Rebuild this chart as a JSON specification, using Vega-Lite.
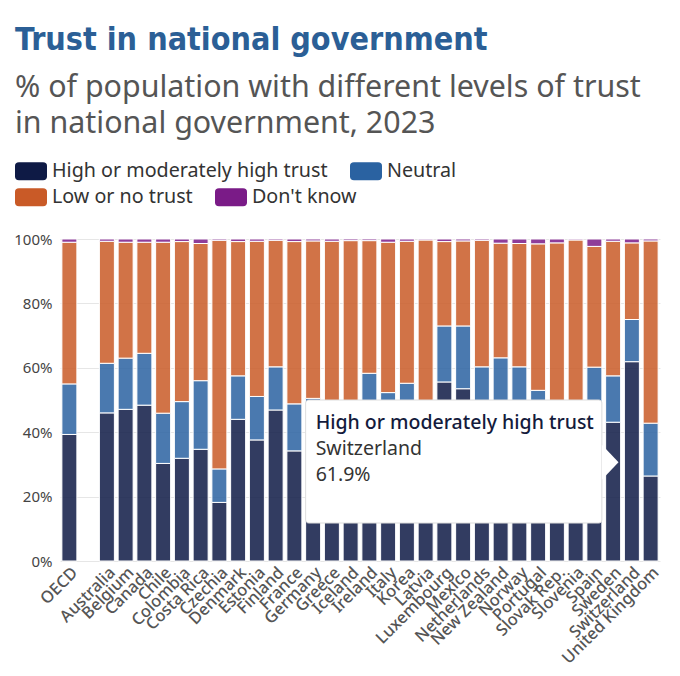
{
  "$schema": "https://vega.github.io/schema/vega-lite/v6.json",
  "width": 600,
  "height": 322,
  "autosize": "none",
  "padding": {"left": 60, "top": 239, "right": 20, "bottom": 115},
  "background": "white",
  "title": {
    "text": "Trust in national government",
    "subtitle": ["% of population with different levels of trust", "in national government, 2023"],
    "anchor": "start",
    "frame": "group",
    "dx": -45,
    "offset": 19,
    "font": "DejaVu Sans Condensed, sans-serif",
    "fontSize": 32,
    "fontWeight": "bold",
    "color": "#2b5f96",
    "subtitleFont": "Noto Sans",
    "subtitleFontSize": 30.4,
    "subtitleColor": "#555555",
    "subtitleLineHeight": 36,
    "subtitlePadding": 16
  },
  "datasets": {
    "trust": [
      {"country": "OECD", "level": "High or moderately high trust", "value": 39.3},
      {"country": "OECD", "level": "Neutral", "value": 15.7},
      {"country": "OECD", "level": "Low or no trust", "value": 44.0},
      {"country": "OECD", "level": "Don't know", "value": 1.0},
      {"country": "Australia", "level": "High or moderately high trust", "value": 46.0},
      {"country": "Australia", "level": "Neutral", "value": 15.4},
      {"country": "Australia", "level": "Low or no trust", "value": 37.9},
      {"country": "Australia", "level": "Don't know", "value": 0.7},
      {"country": "Belgium", "level": "High or moderately high trust", "value": 47.1},
      {"country": "Belgium", "level": "Neutral", "value": 15.9},
      {"country": "Belgium", "level": "Low or no trust", "value": 36.0},
      {"country": "Belgium", "level": "Don't know", "value": 1.0},
      {"country": "Canada", "level": "High or moderately high trust", "value": 48.4},
      {"country": "Canada", "level": "Neutral", "value": 16.1},
      {"country": "Canada", "level": "Low or no trust", "value": 34.5},
      {"country": "Canada", "level": "Don't know", "value": 1.0},
      {"country": "Chile", "level": "High or moderately high trust", "value": 30.3},
      {"country": "Chile", "level": "Neutral", "value": 15.6},
      {"country": "Chile", "level": "Low or no trust", "value": 53.1},
      {"country": "Chile", "level": "Don't know", "value": 1.0},
      {"country": "Colombia", "level": "High or moderately high trust", "value": 31.9},
      {"country": "Colombia", "level": "Neutral", "value": 17.6},
      {"country": "Colombia", "level": "Low or no trust", "value": 49.7},
      {"country": "Colombia", "level": "Don't know", "value": 0.8},
      {"country": "Costa Rica", "level": "High or moderately high trust", "value": 34.7},
      {"country": "Costa Rica", "level": "Neutral", "value": 21.3},
      {"country": "Costa Rica", "level": "Low or no trust", "value": 42.6},
      {"country": "Costa Rica", "level": "Don't know", "value": 1.4},
      {"country": "Czechia", "level": "High or moderately high trust", "value": 18.2},
      {"country": "Czechia", "level": "Neutral", "value": 10.4},
      {"country": "Czechia", "level": "Low or no trust", "value": 71.0},
      {"country": "Czechia", "level": "Don't know", "value": 0.4},
      {"country": "Denmark", "level": "High or moderately high trust", "value": 44.0},
      {"country": "Denmark", "level": "Neutral", "value": 13.5},
      {"country": "Denmark", "level": "Low or no trust", "value": 41.7},
      {"country": "Denmark", "level": "Don't know", "value": 0.8},
      {"country": "Estonia", "level": "High or moderately high trust", "value": 37.6},
      {"country": "Estonia", "level": "Neutral", "value": 13.5},
      {"country": "Estonia", "level": "Low or no trust", "value": 48.2},
      {"country": "Estonia", "level": "Don't know", "value": 0.7},
      {"country": "Finland", "level": "High or moderately high trust", "value": 46.9},
      {"country": "Finland", "level": "Neutral", "value": 13.4},
      {"country": "Finland", "level": "Low or no trust", "value": 39.3},
      {"country": "Finland", "level": "Don't know", "value": 0.4},
      {"country": "France", "level": "High or moderately high trust", "value": 34.2},
      {"country": "France", "level": "Neutral", "value": 14.6},
      {"country": "France", "level": "Low or no trust", "value": 50.4},
      {"country": "France", "level": "Don't know", "value": 0.8},
      {"country": "Germany", "level": "High or moderately high trust", "value": 37.0},
      {"country": "Germany", "level": "Neutral", "value": 13.5},
      {"country": "Germany", "level": "Low or no trust", "value": 48.9},
      {"country": "Germany", "level": "Don't know", "value": 0.6},
      {"country": "Greece", "level": "High or moderately high trust", "value": 29.0},
      {"country": "Greece", "level": "Neutral", "value": 17.0},
      {"country": "Greece", "level": "Low or no trust", "value": 53.3},
      {"country": "Greece", "level": "Don't know", "value": 0.7},
      {"country": "Iceland", "level": "High or moderately high trust", "value": 35.0},
      {"country": "Iceland", "level": "Neutral", "value": 14.0},
      {"country": "Iceland", "level": "Low or no trust", "value": 50.5},
      {"country": "Iceland", "level": "Don't know", "value": 0.5},
      {"country": "Ireland", "level": "High or moderately high trust", "value": 44.0},
      {"country": "Ireland", "level": "Neutral", "value": 14.3},
      {"country": "Ireland", "level": "Low or no trust", "value": 41.2},
      {"country": "Ireland", "level": "Don't know", "value": 0.5},
      {"country": "Italy", "level": "High or moderately high trust", "value": 37.0},
      {"country": "Italy", "level": "Neutral", "value": 15.3},
      {"country": "Italy", "level": "Low or no trust", "value": 46.7},
      {"country": "Italy", "level": "Don't know", "value": 1.0},
      {"country": "Korea", "level": "High or moderately high trust", "value": 39.0},
      {"country": "Korea", "level": "Neutral", "value": 16.2},
      {"country": "Korea", "level": "Low or no trust", "value": 44.1},
      {"country": "Korea", "level": "Don't know", "value": 0.7},
      {"country": "Latvia", "level": "High or moderately high trust", "value": 23.0},
      {"country": "Latvia", "level": "Neutral", "value": 13.0},
      {"country": "Latvia", "level": "Low or no trust", "value": 63.7},
      {"country": "Latvia", "level": "Don't know", "value": 0.3},
      {"country": "Luxembourg", "level": "High or moderately high trust", "value": 55.6},
      {"country": "Luxembourg", "level": "Neutral", "value": 17.4},
      {"country": "Luxembourg", "level": "Low or no trust", "value": 26.2},
      {"country": "Luxembourg", "level": "Don't know", "value": 0.8},
      {"country": "Mexico", "level": "High or moderately high trust", "value": 53.5},
      {"country": "Mexico", "level": "Neutral", "value": 19.5},
      {"country": "Mexico", "level": "Low or no trust", "value": 26.4},
      {"country": "Mexico", "level": "Don't know", "value": 0.6},
      {"country": "Netherlands", "level": "High or moderately high trust", "value": 46.0},
      {"country": "Netherlands", "level": "Neutral", "value": 14.3},
      {"country": "Netherlands", "level": "Low or no trust", "value": 39.3},
      {"country": "Netherlands", "level": "Don't know", "value": 0.4},
      {"country": "New Zealand", "level": "High or moderately high trust", "value": 47.0},
      {"country": "New Zealand", "level": "Neutral", "value": 16.1},
      {"country": "New Zealand", "level": "Low or no trust", "value": 35.6},
      {"country": "New Zealand", "level": "Don't know", "value": 1.3},
      {"country": "Norway", "level": "High or moderately high trust", "value": 48.0},
      {"country": "Norway", "level": "Neutral", "value": 12.3},
      {"country": "Norway", "level": "Low or no trust", "value": 38.3},
      {"country": "Norway", "level": "Don't know", "value": 1.4},
      {"country": "Portugal", "level": "High or moderately high trust", "value": 40.0},
      {"country": "Portugal", "level": "Neutral", "value": 13.0},
      {"country": "Portugal", "level": "Low or no trust", "value": 45.5},
      {"country": "Portugal", "level": "Don't know", "value": 1.5},
      {"country": "Slovak Rep.", "level": "High or moderately high trust", "value": 24.0},
      {"country": "Slovak Rep.", "level": "Neutral", "value": 12.0},
      {"country": "Slovak Rep.", "level": "Low or no trust", "value": 62.8},
      {"country": "Slovak Rep.", "level": "Don't know", "value": 1.2},
      {"country": "Slovenia", "level": "High or moderately high trust", "value": 23.0},
      {"country": "Slovenia", "level": "Neutral", "value": 11.0},
      {"country": "Slovenia", "level": "Low or no trust", "value": 65.7},
      {"country": "Slovenia", "level": "Don't know", "value": 0.3},
      {"country": "Spain", "level": "High or moderately high trust", "value": 38.0},
      {"country": "Spain", "level": "Neutral", "value": 22.2},
      {"country": "Spain", "level": "Low or no trust", "value": 37.5},
      {"country": "Spain", "level": "Don't know", "value": 2.3},
      {"country": "Sweden", "level": "High or moderately high trust", "value": 43.1},
      {"country": "Sweden", "level": "Neutral", "value": 14.4},
      {"country": "Sweden", "level": "Low or no trust", "value": 41.8},
      {"country": "Sweden", "level": "Don't know", "value": 0.7},
      {"country": "Switzerland", "level": "High or moderately high trust", "value": 61.9},
      {"country": "Switzerland", "level": "Neutral", "value": 13.1},
      {"country": "Switzerland", "level": "Low or no trust", "value": 23.8},
      {"country": "Switzerland", "level": "Don't know", "value": 1.2},
      {"country": "United Kingdom", "level": "High or moderately high trust", "value": 26.4},
      {"country": "United Kingdom", "level": "Neutral", "value": 16.4},
      {"country": "United Kingdom", "level": "Low or no trust", "value": 56.6},
      {"country": "United Kingdom", "level": "Don't know", "value": 0.6}
    ],
    "hover": [
      {"level": "High or moderately high trust", "country": "Switzerland", "value": "61.9%"}
    ]
  },
  "encoding": {
    "x": {
      "type": "nominal",
      "scale": {
        "domain": ["OECD", " ", "Australia", "Belgium", "Canada", "Chile", "Colombia", "Costa Rica", "Czechia", "Denmark", "Estonia", "Finland", "France", "Germany", "Greece", "Iceland", "Ireland", "Italy", "Korea", "Latvia", "Luxembourg", "Mexico", "Netherlands", "New Zealand", "Norway", "Portugal", "Slovak Rep.", "Slovenia", "Spain", "Sweden", "Switzerland", "United Kingdom"],
        "paddingInner": 0.2,
        "paddingOuter": 0.1
      },
      "axis": {
        "title": null,
        "labelAngle": -45,
        "labelFont": "Noto Sans",
        "labelFontSize": 16.5,
        "labelFontWeight": 500,
        "labelColor": "#555555",
        "ticks": false,
        "domain": false,
        "labelPadding": 3
      }
    }
  },
  "layer": [
    {
      "data": {"name": "trust"},
      "mark": {"type": "bar", "fillOpacity": 0.85, "stroke": "white", "strokeWidth": 1},
      "encoding": {
        "x": {"field": "country", "type": "nominal"},
        "y": {
          "field": "value",
          "type": "quantitative",
          "stack": "zero",
          "scale": {"domain": [0, 100]},
          "axis": {
            "title": null,
            "values": [0, 20, 40, 60, 80, 100],
            "labelExpr": "datum.value + '%'",
            "labelFont": "Noto Sans",
            "labelFontSize": 15,
            "labelColor": "#444444",
            "ticks": false,
            "domain": false,
            "labelPadding": 8,
            "gridColor": "#e6e6e6"
          }
        },
        "color": {
          "field": "level",
          "type": "nominal",
          "scale": {
            "domain": ["High or moderately high trust", "Neutral", "Low or no trust", "Don't know"],
            "range": ["#0e1a45", "#2a62a1", "#c95a27", "#7a1b87"]
          },
          "legend": {
            "values": ["High or moderately high trust", "Neutral"],
            "orient": "none",
            "legendX": -41,
            "legendY": -80,
            "title": null,
            "direction": "horizontal",
            "padding": 0,
            "columnPadding": 22,
            "symbolType": "M-1.0,-0.75H1.0Q1.333,-0.75 1.333,-0.45V0.45Q1.333,0.75 1.0,0.75H-1.0Q-1.333,0.75 -1.333,0.45V-0.45Q-1.333,-0.75 -1.0,-0.75Z",
            "symbolSize": 576,
            "symbolOpacity": 1,
            "symbolStrokeWidth": 0,
            "labelOffset": 9,
            "labelFont": "Noto Sans",
            "labelFontSize": 19.7,
            "labelColor": "#333333",
            "labelLimit": 400
          }
        },
        "order": {"field": "country"}
      }
    },
    {
      "data": {"name": "trust"},
      "transform": [{"filter": {"field": "level", "oneOf": ["Low or no trust", "Don't know"]}}],
      "mark": {"type": "bar", "opacity": 0},
      "encoding": {
        "x": {"field": "country", "type": "nominal"},
        "y": {"field": "value", "type": "quantitative", "stack": "zero"},
        "fill": {
          "field": "level",
          "type": "nominal",
          "title": "Level",
          "scale": {
            "domain": ["Low or no trust", "Don't know"],
            "range": ["#c95a27", "#7a1b87"]
          },
          "legend": {
            "orient": "none",
            "legendX": -41,
            "legendY": -54,
            "title": null,
            "direction": "horizontal",
            "padding": 0,
            "columnPadding": 22,
            "symbolType": "M-1.0,-0.75H1.0Q1.333,-0.75 1.333,-0.45V0.45Q1.333,0.75 1.0,0.75H-1.0Q-1.333,0.75 -1.333,0.45V-0.45Q-1.333,-0.75 -1.0,-0.75Z",
            "symbolSize": 576,
            "symbolOpacity": 1,
            "symbolStrokeWidth": 0,
            "labelOffset": 9,
            "labelFont": "Noto Sans",
            "labelFontSize": 19.7,
            "labelColor": "#333333",
            "labelLimit": 400
          }
        }
      }
    },
    {
      "data": {"name": "hover"},
      "mark": {"type": "rect", "fill": "white", "stroke": "#dddddd", "strokeWidth": 1, "cornerRadius": 3},
      "encoding": {
        "x": {"datum": "Germany", "type": "nominal", "bandPosition": 0},
        "x2": {"datum": "Spain", "bandPosition": 1},
        "y": {"datum": 50, "type": "quantitative"},
        "y2": {"datum": 11.8}
      }
    },
    {
      "data": {"name": "hover"},
      "mark": {"type": "point", "shape": "M0,-1L0.95,0L0,1Z", "size": 1225, "filled": true, "fill": "white", "opacity": 1, "strokeWidth": 0},
      "encoding": {
        "x": {"datum": "Spain", "type": "nominal", "bandPosition": 1},
        "y": {"datum": 30.7, "type": "quantitative"}
      }
    },
    {
      "data": {"name": "hover"},
      "mark": {"type": "text", "align": "left", "baseline": "alphabetic", "dx": 10, "font": "Noto Sans", "fontSize": 19.5, "fontWeight": 500, "color": "#141b3c"},
      "encoding": {
        "x": {"datum": "Germany", "type": "nominal", "bandPosition": 0},
        "y": {"datum": 40.9, "type": "quantitative"},
        "text": {"field": "level"}
      }
    },
    {
      "data": {"name": "hover"},
      "mark": {"type": "text", "align": "left", "baseline": "alphabetic", "dx": 10, "dy": 26, "font": "Noto Sans", "fontSize": 19.5, "color": "#333333"},
      "encoding": {
        "x": {"datum": "Germany", "type": "nominal", "bandPosition": 0},
        "y": {"datum": 40.9, "type": "quantitative"},
        "text": {"field": "country"}
      }
    },
    {
      "data": {"name": "hover"},
      "mark": {"type": "text", "align": "left", "baseline": "alphabetic", "dx": 10, "dy": 52, "font": "Noto Sans", "fontSize": 19.5, "color": "#333333"},
      "encoding": {
        "x": {"datum": "Germany", "type": "nominal", "bandPosition": 0},
        "y": {"datum": 40.9, "type": "quantitative"},
        "text": {"field": "value"}
      }
    }
  ],
  "config": {
    "view": {"stroke": null}
  }
}
